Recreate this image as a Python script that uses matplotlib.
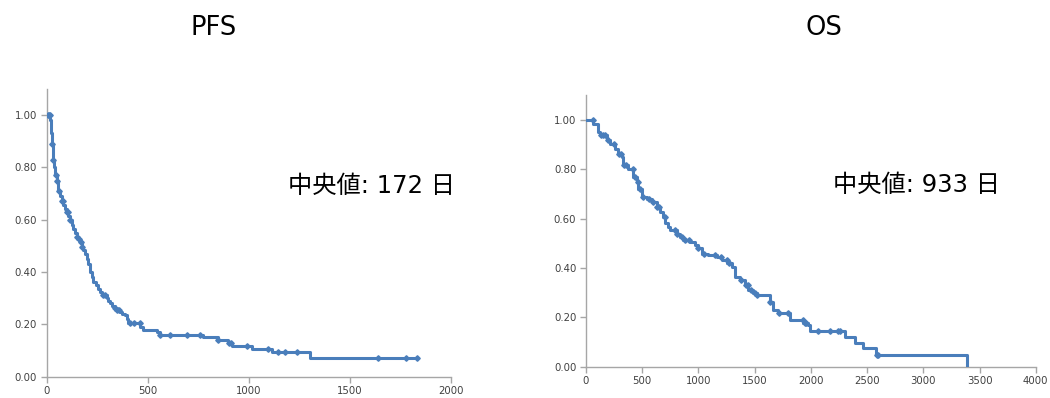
import numpy as np
import matplotlib.pyplot as plt

# PFS: Zeitpunkte der Stufen (Tage) und Überlebensrate danach
pfs_t = [0, 16, 22, 25, 30, 33, 38, 41, 49, 55, 58, 66, 74, 82, 90, 99, 107, 115,
         124, 132, 140, 148, 157, 165, 173, 181, 190, 198, 206, 214, 222, 231, 243,
         256, 264, 272, 297, 305, 313, 325, 338, 350, 363, 375, 388, 396, 404, 462,
         478, 545, 561, 776, 850, 899, 916, 1015, 1114, 1303, 1832]
pfs_s = [1.00, 0.98, 0.93, 0.89, 0.86, 0.83, 0.80, 0.77, 0.75, 0.73, 0.71, 0.69,
         0.67, 0.655, 0.64, 0.63, 0.615, 0.60, 0.58, 0.566, 0.55, 0.534, 0.525,
         0.515, 0.495, 0.485, 0.47, 0.45, 0.43, 0.40, 0.38, 0.363, 0.35, 0.337,
         0.325, 0.312, 0.30, 0.29, 0.28, 0.27, 0.261, 0.255, 0.248, 0.24, 0.235,
         0.22, 0.204, 0.19, 0.178, 0.172, 0.159, 0.150, 0.140, 0.130, 0.117,
         0.105, 0.095, 0.070, 0.070]
# zensierte Fälle (Tage)
pfs_cens = [5, 10, 15, 25, 33, 45, 50, 60, 75, 80, 100, 105, 115, 150, 160, 170,
            175, 280, 290, 340, 350, 360, 410, 430, 460, 561, 611, 693, 759, 850,
            900, 910, 990, 1097, 1147, 1180, 1238, 1642, 1779, 1832]

# OS
os_t = [0, 65, 110, 125, 184, 213, 258, 288, 317, 332, 376, 421, 451, 466, 495,
        540, 584, 629, 658, 688, 703, 732, 747, 807, 836, 866, 925, 969, 999,
        1029, 1088, 1162, 1207, 1251, 1296, 1325, 1370, 1414, 1444, 1488, 1518,
        1637, 1666, 1711, 1815, 1933, 1977, 1992, 2304, 2393, 2467, 2579, 3386]
os_s = [1.00, 0.984, 0.95, 0.937, 0.916, 0.903, 0.883, 0.862, 0.849, 0.815, 0.802,
        0.768, 0.748, 0.721, 0.687, 0.681, 0.667, 0.647, 0.627, 0.606, 0.58, 0.566,
        0.553, 0.539, 0.525, 0.512, 0.505, 0.492, 0.479, 0.458, 0.452, 0.445,
        0.431, 0.418, 0.404, 0.364, 0.350, 0.330, 0.310, 0.297, 0.290, 0.263,
        0.229, 0.216, 0.189, 0.175, 0.168, 0.146, 0.121, 0.095, 0.074, 0.047, 0.0]
os_cens = [60, 130, 150, 170, 200, 250, 290, 310, 340, 360, 420, 440, 460, 480,
           510, 560, 600, 630, 650, 700, 790, 810, 850, 880, 920, 1000, 1050, 1150,
           1200, 1250, 1270, 1380, 1420, 1440, 1470, 1500, 1520, 1640, 1720, 1800,
           1930, 1950, 1960, 2066, 2170, 2244, 2259, 2590, 2600]

titles = ["PFS", "OS"]
medians = ["中央値: 172 日", "中央値: 933 日"]

blue = "#4a7ebb"
grey = "#a6a6a6"
txt = "#404040"

fig = plt.figure(figsize=(10.5, 3.98), dpi=100)
ax1 = fig.add_axes([0.0445, 0.0535, 0.3848, 0.7229])
ax2 = fig.add_axes([0.5581, 0.0786, 0.4283, 0.6827])


def km_plot(ax, t, s, cens, xmax, xstep):
    t = np.array(t)
    s = np.array(s)
    ax.step(t, s, where="post", color=blue, lw=2.2, zorder=3)
    idx = np.searchsorted(t, cens, side="right") - 1
    ax.plot(cens, s[idx], ls="none", marker="D", ms=2.8, color=blue, zorder=4)
    ax.set_xlim(0, xmax)
    ax.set_ylim(0, 1.1)
    ax.set_xticks(np.arange(0, xmax + 1, xstep))
    ax.set_yticks(np.arange(0, 1.01, 0.2))
    ax.yaxis.set_major_formatter(plt.FormatStrFormatter("%.2f"))
    for side in ["top", "right"]:
        ax.spines[side].set_visible(False)
    for side in ["left", "bottom"]:
        ax.spines[side].set_color(grey)
        ax.spines[side].set_linewidth(1.0)
    ax.tick_params(direction="out", length=4, width=1, color=grey,
                   labelsize=7.3, labelcolor=txt, pad=3)


km_plot(ax1, pfs_t, pfs_s, pfs_cens, 2000, 500)
km_plot(ax2, os_t, os_s, os_cens, 4000, 500)

ax1.text(1194, 0.73, medians[0], ha="left", va="center", fontsize=17.5,
         family=["DejaVu Sans", "Noto Sans CJK JP"], color="black")
ax2.text(2197, 0.734, medians[1], ha="left", va="center", fontsize=17.5,
         family=["DejaVu Sans", "Noto Sans CJK JP"], color="black")

fig.text(0.203, 0.93, titles[0], ha="center", va="center", fontsize=18.5)
fig.text(0.785, 0.93, titles[1], ha="center", va="center", fontsize=18.5)

fig.savefig("out.png", dpi=100)
